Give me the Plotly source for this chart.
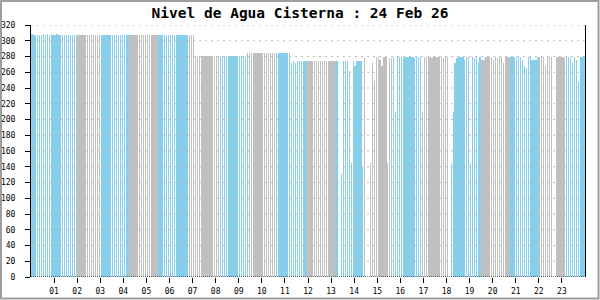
import plotly.graph_objects as go
import pandas as pd

# ---- data (2-hourly water level readings) ----
levels = [
    309, 307, 307, 307, 307, 307, 309, 307, 309, 307, 309, 307,
    307, 309, 307, 307, 307, 307, 307, 307, 307, 307, 307, 307,
    307, 307, 307, 307, 307, 307, 307, 307, 307, 307, 307, 307,
    307, 307, 307, 307, 307, 307, 307, 307, 307, 307, 307, 307,
    307, 307, 307, 307, 307, 307, 307, 307, 307, 307, 307, 307,
    307, 307, 307, 307, 307, 307, 307, 307, 307, 307, 307, 307,
    307, 307, 307, 307, 307, 307, 307, 307, 307, 307, 307, 307,
    307, 281, 281, 281, 281, 281, 281, 281, 281, 281, 281, 281,
    281, 281, 281, 281, 281, 281, 281, 281, 281, 281, 281, 281,
    281, 281, 281, 281, 284, 284, 284, 284, 284, 284, 284, 284,
    284, 284, 284, 284, 284, 284, 284, 284, 284, 284, 284, 284,
    284, 284, 284, 272, 274, 272, 274, 274, 274, 274, 274, 274,
    274, 274, 274, 274, 274, 274, 274, 274, 274, 274, 274, 274,
    274, 274, 274, 274, None, 131, 274, 274, 274, 262, 145, 274,
    268, 274, 274, 274, 140, 278, None, None, 145, 272, 249, 279,
    279, 275, 268, 280, 279, 145, 278, 278, 279, 210, 279, 280,
    279, 278, 279, 280, 279, 279, 280, 278, 279, 279, 280, 210,
    280, 279, 279, 280, 278, 279, 280, 279, 279, 280, 278, 279,
    279, None, 145, 210, 272, 278, 279, 280, 279, 275, 279, 280,
    145, 279, 278, 279, 272, 279, 275, 275, 279, 280, 279, 279,
    275, 279, 278, 279, 279, 272, 279, 280, 279, 279, 280, 279,
    279, 280, 279, 275, 268, 266, 280, 279, 275, 275, 275, 279,
    280, 279, 279, 268, 279, 280, 279, None, None, 279, 280, 279,
    279, 278, 279, 280, 279, 272, 279, 275, 247, 279, 280, 279,
]
start_time = "2026-01-31 01:00"
day_ticks = ["%02d" % d for d in range(1, 24)]
y_ticks = list(range(0, 321, 20))
title_text = "Nivel de Agua Cisterna : 24 Feb 26"

# colour blocks: (first bar, last bar) of each blue block
blue_blocks = [(0, 22), (36, 50), (66, 81), (98, 112), (127, 142), (158, 172),
               (188, 202), (218, 233), (249, 263), (278, 287)]
BLUE = "#87CEEB"
GREY = "#C0C0C0"

times = pd.date_range(start_time, periods=len(levels), freq="2h")
colors = []
for i in range(len(levels)):
    c = GREY
    for a, b in blue_blocks:
        if a <= i <= b:
            c = BLUE
    colors.append(c)

fig = go.Figure()
fig.add_trace(go.Bar(
    x=times, y=levels,
    marker=dict(color=colors, line=dict(width=0)),
    width=[3600000 * 0.35] * len(levels),
    hoverinfo="x+y",
))

tickvals = [pd.Timestamp(2026, 2, d) for d in range(1, 24)]

mono = "DejaVu Sans Mono"
shapes = []
for v in y_ticks[1:]:
    shapes.append(dict(type="line", xref="paper", yref="y", x0=0, x1=1, y0=v, y1=v,
                       line=dict(color="#BDBDBD", width=1, dash="2px,4px"), layer="above"))
shapes.append(dict(type="line", xref="paper", yref="y", x0=0, x1=1, y0=0, y1=0,
                   line=dict(color="black", width=1, dash="1px,1px"), layer="above"))
# outer frame
shapes.append(dict(type="rect", xref="paper", yref="paper",
                   x0=(1 - 31) / 554, x1=(598.5 - 31) / 554,
                   y0=(277 - 298.5) / 252, y1=(277 - 1) / 252,
                   line=dict(color="#9E9E9E", width=2), layer="above"))

fig.update_layout(
    width=600, height=300,
    margin=dict(l=31, r=15, t=25, b=23, autoexpand=False),
    paper_bgcolor="white", plot_bgcolor="white",
    showlegend=False,
    bargap=0,
    title=dict(text="<b>" + title_text + "</b>", x=0.5, xanchor="center",
               y=1 - 13 / 300, yanchor="middle",
               font=dict(family=mono, size=14.5, color="black")),
    xaxis=dict(
        type="date", automargin=False,
        range=["2026-01-31 00:00", "2026-02-24 00:00"],
        tickmode="array", tickvals=tickvals, ticktext=day_ticks,
        ticks="outside", ticklen=5, tickcolor="black", tickwidth=1,
        showgrid=False, showline=False, zeroline=False,
        tickfont=dict(family=mono, size=8, color="black"),
        ticklabelstandoff=1,
    ),
    yaxis=dict(
        range=[0, 320], automargin=False,
        tickmode="array", tickvals=y_ticks,
        ticks="outside", ticklen=5, tickcolor="black", tickwidth=1,
        showgrid=False, zeroline=False,
        showline=True, linecolor="black", linewidth=1, mirror=True,
        tickfont=dict(family=mono, size=8, color="black"),
        ticklabelstandoff=8,
    ),
    shapes=shapes,
)

fig.write_html("out.html")
